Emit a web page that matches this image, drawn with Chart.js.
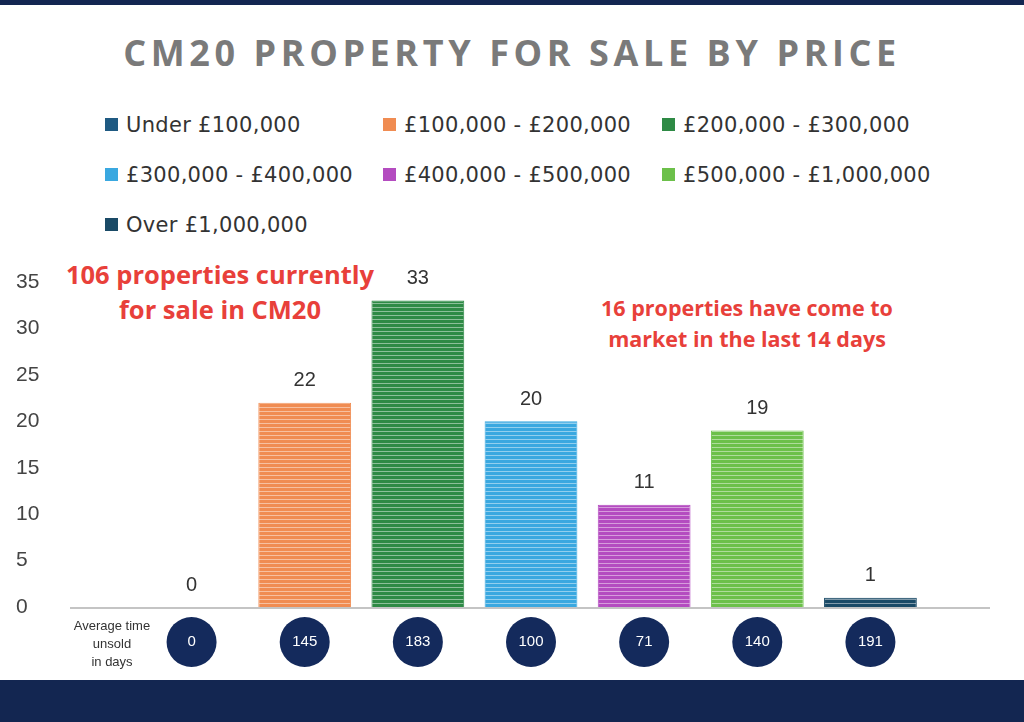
<!DOCTYPE html>
<html>
<head>
<title>CM20 Property for sale by price</title>
<script src="https://cdn.jsdelivr.net/npm/chart.js@4.4.1/dist/chart.umd.min.js"></script>
<style>
  body { margin:0; width:1024px; height:722px; position:relative; background:#fff; font-family:"Liberation Sans", Arial, sans-serif; overflow:hidden; }
  .band-top { position:absolute; left:0; top:0; width:1024px; height:5px; background:#132651; }
  .band-bot { position:absolute; left:0; top:680px; width:1024px; height:42px; background:#132651; }
  h1 { position:absolute; top:28px; left:0; width:1024px; margin:0; text-align:center; font:bold 36px "Open Sans", sans-serif; letter-spacing:4.6px; color:#7a7a7a; }
  .leg { position:absolute; font:21px "DejaVu Sans", sans-serif; letter-spacing:0.3px; color:#333; white-space:nowrap; }
  .leg span { display:inline-block; width:13px; height:13px; margin-right:8px; vertical-align:1px; }
  .note { position:absolute; color:#e8403a; font-weight:bold; text-align:center; font-family:"Open Sans", sans-serif; }
  #wrap { position:absolute; left:0; top:260px; width:1024px; height:420px; }
</style>
</head>
<body>
<div class="band-top"></div>
<div class="band-bot"></div>
<h1>CM20 PROPERTY FOR SALE BY PRICE</h1>
<div id="legend"></div>
<div class="note" style="left:20px;top:257px;width:400px;font-size:25.5px;line-height:35px;">106 properties currently<br>for sale in CM20</div>
<div class="note" style="left:547px;top:292px;width:400px;font-size:21.5px;line-height:31px;">16 properties have come to<br>market in the last 14 days</div>
<div id="wrap"><canvas id="myChart" width="1024" height="420"></canvas></div>
<script>
var categories = ['Under £100,000', '£100,000 - £200,000', '£200,000 - £300,000', '£300,000 - £400,000', '£400,000 - £500,000', '£500,000 - £1,000,000', 'Over £1,000,000'];
var counts = [0, 22, 33, 20, 11, 19, 1];
var daysUnsold = [0, 145, 183, 100, 71, 140, 191];
var colors = ['#1f5a82', '#f08c52', '#2e8a45', '#3aa8e0', '#b44cc0', '#6cc04a', '#1a4a66'];
var yTicks = [0, 5, 10, 15, 20, 25, 30, 35];

// legend, 3 columns
var legPos = [[105,113],[383,113],[662,113],[105,163],[383,163],[662,163],[105,213]];
var lg = document.getElementById('legend');
categories.forEach(function(c, i) {
  var d = document.createElement('div');
  d.className = 'leg';
  d.style.left = legPos[i][0] + 'px';
  d.style.top = legPos[i][1] + 'px';
  d.innerHTML = '<span style="background:' + colors[i] + '"></span>' + c;
  lg.appendChild(d);
});

function stripes(color) {
  var c = document.createElement('canvas');
  c.width = 4; c.height = 4;
  var g = c.getContext('2d');
  g.fillStyle = color; g.fillRect(0, 0, 4, 4);
  g.fillStyle = 'rgba(255,255,255,0.45)'; g.fillRect(0, 3, 4, 1);
  return g.createPattern(c, 'repeat');
}

var extras = {
  id: 'extras',
  afterDatasetsDraw: function(chart) {
    var ctx = chart.ctx, meta = chart.getDatasetMeta(0);
    var base = chart.scales.y.getPixelForValue(0);
    ctx.save();
    ctx.strokeStyle = '#c4c4c4'; ctx.lineWidth = 2;
    ctx.beginPath(); ctx.moveTo(70, base + 1); ctx.lineTo(990, base + 1); ctx.stroke();
    ctx.textAlign = 'center';
    meta.data.forEach(function(bar, i) {
      ctx.fillStyle = '#333'; ctx.font = '20px "Liberation Sans", Arial';
      ctx.textBaseline = 'bottom';
      ctx.fillText(counts[i], bar.x, bar.y - 12);
      ctx.fillStyle = '#142a5c';
      ctx.beginPath(); ctx.arc(bar.x, 382, 25, 0, Math.PI * 2); ctx.fill();
      ctx.fillStyle = '#fff'; ctx.font = '15px "Liberation Sans", Arial';
      ctx.textBaseline = 'middle';
      ctx.fillText(daysUnsold[i], bar.x, 382);
    });
    ctx.fillStyle = '#333'; ctx.font = '13px "Liberation Sans", Arial';
    ctx.fillText('Average time', 112, 366);
    ctx.fillText('unsold', 112, 384);
    ctx.fillText('in days', 112, 402);
    ctx.restore();
  }
};

var ctx = document.getElementById('myChart').getContext('2d');
var chart = new Chart(ctx, {
  type: 'bar',
  data: {
    labels: categories,
    datasets: [{
      data: counts,
      backgroundColor: colors.map(stripes),
      borderColor: colors,
      borderWidth: 1,
      barPercentage: 0.82,
      categoryPercentage: 1
    }]
  },
  options: {
    responsive: false,
    animation: false,
    layout: { padding: { top: 22, right: 97, bottom: 0, left: 16 } },
    plugins: { legend: { display: false }, tooltip: { enabled: false } },
    scales: {
      x: {
        grid: { display: false }, border: { display: false },
        ticks: { display: false },
        afterFit: function(s) { s.height = 73; }
      },
      y: {
        min: 0, max: 35,
        afterBuildTicks: function(s) { s.ticks = yTicks.map(function(v) { return { value: v }; }); },
        grid: { display: false }, border: { display: false },
        ticks: { color: '#444', font: { size: 21, family: 'Liberation Sans' }, crossAlign: 'far', padding: 0 },
        afterFit: function(s) { s.width = 119; }
      }
    }
  },
  plugins: [extras]
});
</script>
</body>
</html>
